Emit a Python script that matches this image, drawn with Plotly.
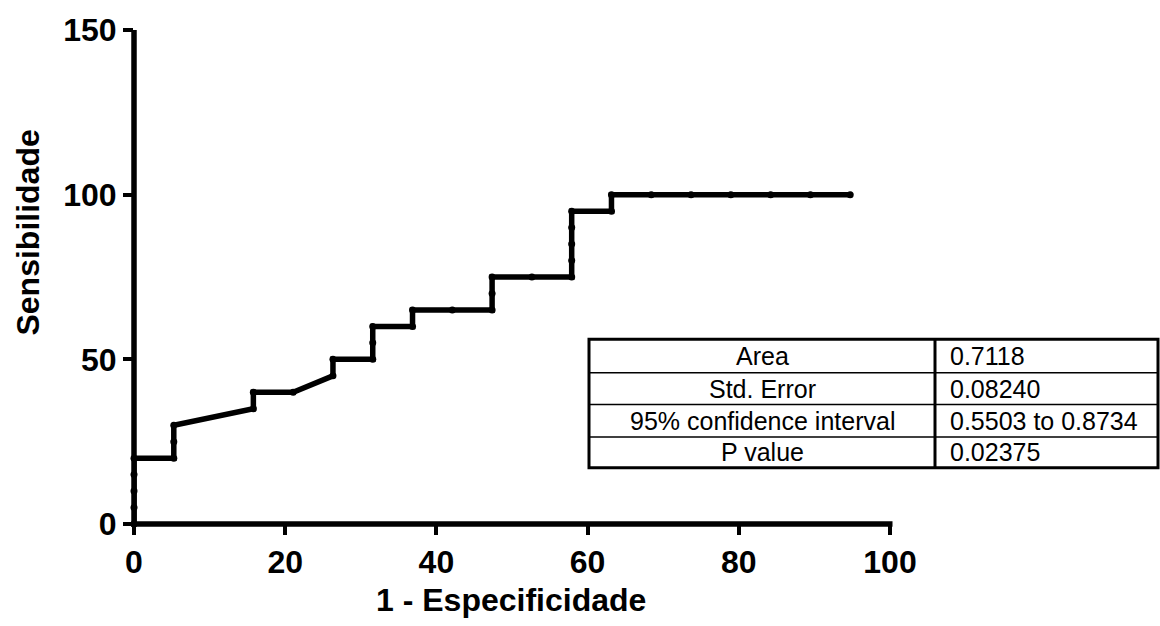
import plotly.graph_objects as go

# ROC curve data (1 - specificity %, sensitivity %)
fpr = [0, 0, 0, 0, 0, 5.263, 5.263, 5.263, 15.789, 15.789, 21.053, 26.316, 26.316,
       31.579, 31.579, 31.579, 36.842, 36.842, 42.105, 47.368, 47.368, 47.368,
       52.632, 57.895, 57.895, 57.895, 57.895, 57.895, 63.158, 63.158,
       68.421, 73.684, 78.947, 84.211, 89.474, 94.737]
sens = [0, 5, 10, 15, 20, 20, 25, 30, 35, 40, 40, 45, 50,
        50, 55, 60, 60, 65, 65, 65, 70, 75,
        75, 75, 80, 85, 90, 95, 95, 100,
        100, 100, 100, 100, 100, 100]

x_ticks = [0, 20, 40, 60, 80, 100]
y_ticks = [0, 50, 100, 150]

table_labels = ["Area", "Std. Error", "95% confidence interval", "P value"]
table_values = ["0.7118", "0.08240", "0.5503 to 0.8734", "0.02375"]

W, H = 1160, 626
L, R, T, B = 134, 890, 24, 524  # plot area pixel bounds


def px(xp):
    return (xp - L) / (R - L)


def py(yp):
    return (B - yp) / (B - T)


BOLD = dict(family="Liberation Sans, Arial, sans-serif", size=32, color="black", weight="bold")
REG = dict(family="Liberation Sans, Arial, sans-serif", size=25, color="black")

fig = go.Figure()
fig.add_trace(go.Scatter(
    x=fpr, y=sens, mode="lines+markers",
    line=dict(color="black", width=5.5),
    marker=dict(color="black", size=7),
    cliponaxis=False, showlegend=False,
))

axis_common = dict(
    showgrid=False, zeroline=False, showline=False,
    ticks="outside", ticklen=10, tickwidth=4, tickcolor="black", tickfont=BOLD,
)

fig.update_layout(
    width=W, height=H, autosize=False,
    margin=dict(l=L, r=W - R, t=T, b=H - B, pad=0),
    paper_bgcolor="white", plot_bgcolor="white",
    xaxis=dict(range=[0, 100], tickvals=x_ticks, ticktext=[str(v) for v in x_ticks], **axis_common),
    yaxis=dict(range=[0, 150], tickvals=y_ticks, ticktext=[str(v) for v in y_ticks], **axis_common),
)

annotations = [
    dict(text="1 - Especificidade", xref="paper", yref="paper", x=px(511), y=py(601),
         xanchor="center", yanchor="middle", showarrow=False, font=BOLD),
    dict(text="Sensibilidade", xref="paper", yref="paper", x=px(28), y=py(229),
         xanchor="center", yanchor="middle", showarrow=False, font=BOLD, textangle=-90),
]

shapes = []
# axis lines drawn through the data origin
shapes.append(dict(type="line", xref="paper", yref="paper", layer="above",
                   x0=0, x1=0, y0=py(B + 2.5), y1=1, line=dict(color="black", width=5.5)))
shapes.append(dict(type="line", xref="paper", yref="paper", layer="above",
                   x0=px(L - 2.5), x1=px(R + 2.5), y0=0, y1=0, line=dict(color="black", width=5.5)))

# Table geometry (pixels)
tl, tdiv, tr = 589, 935, 1158
row_edges = [337, 371, 403, 436, 467]

shapes.append(dict(type="rect", xref="paper", yref="paper",
                   x0=px(tl), x1=px(tr), y0=py(row_edges[-1]), y1=py(row_edges[0]),
                   line=dict(color="black", width=3), fillcolor="rgba(0,0,0,0)"))
shapes.append(dict(type="line", xref="paper", yref="paper",
                   x0=px(tdiv), x1=px(tdiv), y0=py(row_edges[-1]), y1=py(row_edges[0]),
                   line=dict(color="black", width=3)))
for ye in row_edges[1:-1]:
    shapes.append(dict(type="line", xref="paper", yref="paper",
                       x0=px(tl), x1=px(tr), y0=py(ye), y1=py(ye),
                       line=dict(color="black", width=1.5)))

for i, (lab, val) in enumerate(zip(table_labels, table_values)):
    yc = (row_edges[i] + row_edges[i + 1]) / 2
    annotations.append(dict(text=lab, xref="paper", yref="paper", x=px((tl + tdiv) / 2), y=py(yc),
                            xanchor="center", yanchor="middle", showarrow=False, font=REG))
    annotations.append(dict(text=val, xref="paper", yref="paper", x=px(tdiv + 13), y=py(yc),
                            xanchor="left", yanchor="middle", showarrow=False, font=REG))

fig.update_layout(shapes=shapes, annotations=annotations)

fig.write_html("out.html")
